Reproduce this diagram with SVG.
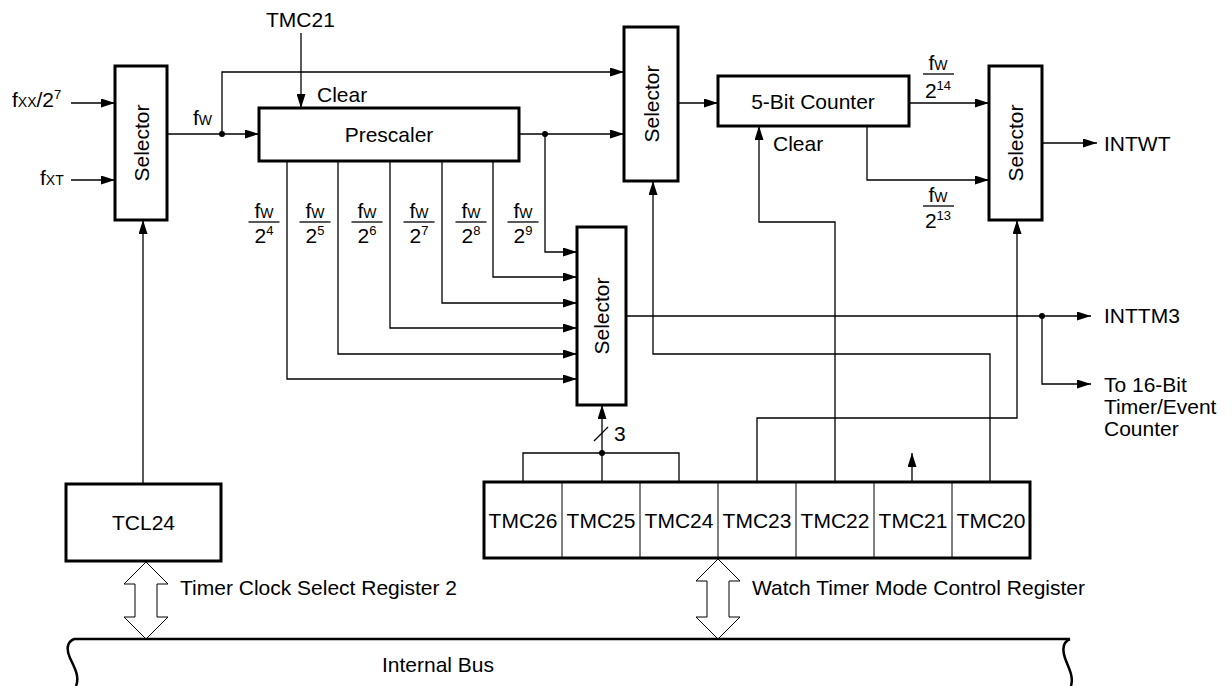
<svg xmlns="http://www.w3.org/2000/svg" width="1232" height="686" viewBox="0 0 1232 686">
<defs>
<marker id="ah" markerUnits="userSpaceOnUse" markerWidth="14" markerHeight="9" refX="14" refY="4.5" orient="auto">
<path d="M0,0 L14,4.5 L0,9 z" fill="#000"/>
</marker>
<style>
text{font-family:"Liberation Sans",Arial,sans-serif;font-size:21px;fill:#000}
.sub{font-size:14px}
.sup{font-size:13px}
.box{fill:#fff;stroke:#000;stroke-width:3}
.cell{stroke:#000;stroke-width:1}
.ln{fill:none;stroke:#000;stroke-width:1.3}
.arr{fill:none;stroke:#000;stroke-width:1.3;marker-end:url(#ah)}
.bar{stroke:#000;stroke-width:1.3}
.dot{fill:#000}
.dbl{fill:#fff;stroke:#000;stroke-width:1}
.bus{fill:none;stroke:#000;stroke-width:2.5}
</style>
</defs>
<rect width="1232" height="686" fill="#fff"/>

<g id="connectors">
<line class="arr" x1="71" y1="103" x2="115" y2="103"/>
<line class="arr" x1="71" y1="180" x2="115" y2="180"/>
<line class="arr" x1="167" y1="134" x2="259" y2="134"/>
<polyline class="arr" points="222,134 222,72 624,72"/>
<line class="arr" x1="301" y1="33" x2="301" y2="108"/>
<line class="arr" x1="519" y1="134" x2="624" y2="134"/>
<polyline class="arr" points="545,134 545,252 577,252"/>
<polyline class="arr" points="493,161 493,277 577,277"/>
<polyline class="arr" points="442,161 442,303 577,303"/>
<polyline class="arr" points="390,161 390,328 577,328"/>
<polyline class="arr" points="338,161 338,354 577,354"/>
<polyline class="arr" points="287,161 287,379 577,379"/>
<line class="arr" x1="678" y1="103" x2="718" y2="103"/>
<line class="arr" x1="909" y1="103" x2="989" y2="103"/>
<polyline class="arr" points="867,126 867,180 989,180"/>
<line class="arr" x1="1042" y1="143" x2="1097" y2="143"/>
<line class="arr" x1="626" y1="316" x2="1091" y2="316"/>
<polyline class="arr" points="1042,316 1042,384 1091,384"/>
<line class="arr" x1="143" y1="484" x2="143" y2="220"/>
<line class="arr" x1="602" y1="482" x2="602" y2="405"/>
<polyline class="ln" points="523,482 523,453 679,453 679,482"/>
<line class="ln" x1="594" y1="441" x2="608" y2="427"/>
<polyline class="arr" points="757,482 757,418 1017,418 1017,220"/>
<polyline class="arr" points="835,482 835,222 759,222 759,126"/>
<line class="arr" x1="912" y1="482" x2="912" y2="453"/>
<polyline class="arr" points="990,482 990,354 653,354 653,181"/>
<circle class="dot" cx="222" cy="134" r="3"/>
<circle class="dot" cx="545" cy="134" r="3"/>
<circle class="dot" cx="602" cy="453" r="3"/>
<circle class="dot" cx="1042" cy="316" r="3"/>
</g>

<g id="labels">
<text x="12" y="107">f<tspan class="sub">XX</tspan>/2<tspan class="sup" dy="-8">7</tspan></text>
<text x="40" y="185">f<tspan class="sub">XT</tspan></text>
<text x="193" y="125">f<tspan class="sub">W</tspan></text>
<text x="266" y="27">TMC21</text>
<text x="317" y="102">Clear</text>
<text x="773" y="151">Clear</text>
<text x="614" y="441">3</text>
<text x="1104" y="151">INTWT</text>
<text x="1104" y="323">INTTM3</text>
<text x="1104" y="392">To 16-Bit</text>
<text x="1104" y="414">Timer/Event</text>
<text x="1104" y="436">Counter</text>
<text x="180" y="595">Timer Clock Select Register 2</text>
<text x="752" y="595">Watch Timer Mode Control Register</text>
</g>

<g id="fractions">
<g><text x="264" y="218" text-anchor="middle">f<tspan class="sub">W</tspan></text><line class="bar" x1="248.5" y1="222" x2="279.5" y2="222"/><text x="264" y="243" text-anchor="middle">2<tspan class="sup" dy="-8">4</tspan></text></g>
<g><text x="315" y="218" text-anchor="middle">f<tspan class="sub">W</tspan></text><line class="bar" x1="299.5" y1="222" x2="330.5" y2="222"/><text x="315" y="243" text-anchor="middle">2<tspan class="sup" dy="-8">5</tspan></text></g>
<g><text x="367" y="218" text-anchor="middle">f<tspan class="sub">W</tspan></text><line class="bar" x1="351.5" y1="222" x2="382.5" y2="222"/><text x="367" y="243" text-anchor="middle">2<tspan class="sup" dy="-8">6</tspan></text></g>
<g><text x="419" y="218" text-anchor="middle">f<tspan class="sub">W</tspan></text><line class="bar" x1="403.5" y1="222" x2="434.5" y2="222"/><text x="419" y="243" text-anchor="middle">2<tspan class="sup" dy="-8">7</tspan></text></g>
<g><text x="471" y="218" text-anchor="middle">f<tspan class="sub">W</tspan></text><line class="bar" x1="455.5" y1="222" x2="486.5" y2="222"/><text x="471" y="243" text-anchor="middle">2<tspan class="sup" dy="-8">8</tspan></text></g>
<g><text x="523" y="218" text-anchor="middle">f<tspan class="sub">W</tspan></text><line class="bar" x1="507.5" y1="222" x2="538.5" y2="222"/><text x="523" y="243" text-anchor="middle">2<tspan class="sup" dy="-8">9</tspan></text></g>
<g><text x="938" y="70" text-anchor="middle">f<tspan class="sub">W</tspan></text><line class="bar" x1="923" y1="74" x2="954" y2="74"/><text x="938" y="98" text-anchor="middle">2<tspan class="sup" dy="-8">14</tspan></text></g>
<g><text x="938" y="202" text-anchor="middle">f<tspan class="sub">W</tspan></text><line class="bar" x1="923" y1="206" x2="954" y2="206"/><text x="938" y="228" text-anchor="middle">2<tspan class="sup" dy="-8">13</tspan></text></g>
</g>

<g id="sel-left"><rect class="box" x="115" y="66" width="52" height="154"/><text transform="translate(141,143) rotate(-90)" x="0" y="7.5" text-anchor="middle">Selector</text></g>
<g id="prescaler"><rect class="box" x="259" y="108" width="260" height="53"/><text x="389" y="142" text-anchor="middle">Prescaler</text></g>
<g id="sel-mid"><rect class="box" x="624" y="27" width="54" height="154"/><text transform="translate(651,104) rotate(-90)" x="0" y="7.5" text-anchor="middle">Selector</text></g>
<g id="counter"><rect class="box" x="718" y="76" width="191" height="50"/><text x="813" y="109" text-anchor="middle">5-Bit Counter</text></g>
<g id="sel-right"><rect class="box" x="989" y="66" width="53" height="154"/><text transform="translate(1015.5,143) rotate(-90)" x="0" y="7.5" text-anchor="middle">Selector</text></g>
<g id="sel-bottom"><rect class="box" x="577" y="227" width="49" height="178"/><text transform="translate(601.5,316) rotate(-90)" x="0" y="7.5" text-anchor="middle">Selector</text></g>
<g id="tcl24"><rect class="box" x="66" y="484" width="155" height="77"/><text x="143.5" y="530" text-anchor="middle">TCL24</text></g>
<g id="tmc2">
<rect class="box" x="484" y="482" width="546" height="76"/>
<line class="cell" x1="562" y1="482" x2="562" y2="558"/>
<line class="cell" x1="640" y1="482" x2="640" y2="558"/>
<line class="cell" x1="718" y1="482" x2="718" y2="558"/>
<line class="cell" x1="796" y1="482" x2="796" y2="558"/>
<line class="cell" x1="874" y1="482" x2="874" y2="558"/>
<line class="cell" x1="952" y1="482" x2="952" y2="558"/>
<text x="523" y="528" text-anchor="middle">TMC26</text>
<text x="601" y="528" text-anchor="middle">TMC25</text>
<text x="679" y="528" text-anchor="middle">TMC24</text>
<text x="757" y="528" text-anchor="middle">TMC23</text>
<text x="835" y="528" text-anchor="middle">TMC22</text>
<text x="913" y="528" text-anchor="middle">TMC21</text>
<text x="991" y="528" text-anchor="middle">TMC20</text>
</g>
<g id="arrow-tcs"><polygon class="dbl" points="146,562 168,584 157,584 157,617 168,617 146,639 124,617 135,617 135,584 124,584"/></g>
<g id="arrow-wtm"><polygon class="dbl" points="718,559 740,581 729,581 729,617 740,617 718,639 696,617 707,617 707,581 696,581"/></g>
<g id="bus">
<path class="bus" d="M74,639 C67,642 66,649 70,658 C74,667 80,676 76,686"/>
<line class="bus" x1="74" y1="639" x2="1070" y2="639"/>
<path class="bus" d="M1070,639 C1063,642 1062,649 1065,658 C1068,667 1074,676 1071,686"/>
<text x="438" y="672" text-anchor="middle">Internal Bus</text>
</g>
</svg>
